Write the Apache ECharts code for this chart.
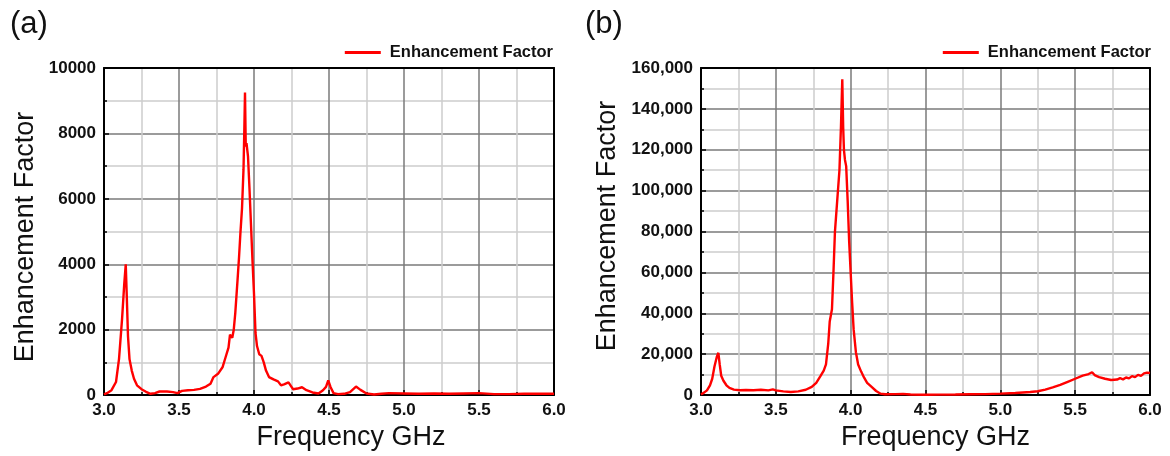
<!DOCTYPE html>
<html>
<head>
<meta charset="utf-8">
<script src="https://cdn.jsdelivr.net/npm/echarts@6/dist/echarts.min.js"></script>
<style>
  html, body { margin: 0; padding: 0; background: #fff; }
  #chart { width: 1170px; height: 456px; }
</style>
</head>
<body>
<div id="chart"></div>
<script>
// Panel (a) data
const freqA = [3.00,3.02,3.05,3.08,3.10,3.12,3.135,3.145,3.152,3.16,3.17,3.185,3.20,3.22,3.25,3.28,3.31,3.34,3.37,3.42,3.46,3.49,3.52,3.56,3.60,3.64,3.68,3.71,3.73,3.76,3.79,3.81,3.83,3.84,3.855,3.865,3.875,3.89,3.90,3.91,3.92,3.93,3.935,3.94,3.945,3.95,3.96,3.97,3.98,3.99,4.00,4.01,4.02,4.035,4.05,4.065,4.08,4.10,4.13,4.16,4.18,4.20,4.23,4.26,4.29,4.32,4.35,4.39,4.43,4.46,4.48,4.495,4.51,4.53,4.56,4.60,4.64,4.68,4.71,4.75,4.80,4.85,4.90,5.00,5.10,5.20,5.30,5.40,5.50,5.60,5.70,5.80,5.90,6.00];
const valA  = [20,60,150,400,1100,2300,3400,4000,3000,1800,1100,750,500,300,180,100,40,60,110,110,90,60,130,150,160,190,260,350,550,650,850,1150,1450,1850,1750,2000,2500,3500,4200,5000,5700,6900,8000,9250,7600,7700,7300,6300,5200,4100,3100,1900,1500,1250,1200,1000,750,550,480,420,300,330,390,180,200,240,150,80,50,150,250,450,250,60,30,40,90,260,160,50,20,40,60,50,40,50,40,50,60,30,30,40,40,40];

// Panel (b) data
const freqB = [3.00,3.02,3.04,3.06,3.075,3.09,3.105,3.116,3.125,3.135,3.15,3.17,3.19,3.22,3.26,3.30,3.35,3.40,3.45,3.48,3.50,3.55,3.60,3.65,3.70,3.74,3.77,3.80,3.82,3.835,3.85,3.86,3.875,3.885,3.895,3.91,3.925,3.935,3.944,3.95,3.955,3.962,3.97,3.98,3.99,4.00,4.01,4.02,4.035,4.05,4.07,4.09,4.11,4.14,4.17,4.20,4.23,4.30,4.35,4.40,4.50,4.60,4.70,4.80,4.90,5.00,5.10,5.20,5.25,5.30,5.35,5.40,5.45,5.50,5.55,5.59,5.613,5.63,5.66,5.70,5.74,5.78,5.80,5.82,5.84,5.86,5.88,5.90,5.92,5.94,5.96,5.97,5.98,6.00];
const valB  = [300,1200,2300,4800,8000,14000,18500,20700,15000,9500,7000,4800,3500,2700,2400,2500,2400,2600,2300,2800,2300,1800,1500,1800,2600,4000,6000,9500,12000,15000,25000,36000,42000,60000,80000,95000,110000,131000,154500,131000,120000,115000,112000,95000,75000,60000,45000,32000,21000,15000,11500,8500,6000,4000,2000,700,400,500,600,300,200,250,300,400,500,700,1000,1500,1900,2700,3800,5000,6500,8000,9500,10300,11200,9800,8800,8000,7400,7600,8300,7700,8600,8200,9300,8800,9900,9400,10600,10000,11000,10800];

const xTicks = { min: 3, max: 6, interval: 0.5 };
const yTicksA = { min: 0, max: 10000, interval: 2000 };
const yTicksB = { min: 0, max: 160000, interval: 20000 };

const FONT = 'Liberation Sans, Arial, sans-serif';
const RED = '#ff0000';

function pairs(xs, ys) { return xs.map((x, i) => [x, ys[i]]); }

function mainX(gridIndex, namePadLeft) {
  return {
    type: 'value', gridIndex, position: 'bottom',
    min: xTicks.min, max: xTicks.max, interval: xTicks.interval,
    name: 'Frequency GHz', nameLocation: 'middle', nameGap: 22,
    nameTextStyle: { fontFamily: FONT, fontSize: 27, color: '#111', padding: [0, 0, 0, namePadLeft] },
    axisLine: { show: true, onZero: false, lineStyle: { color: '#000', width: 2 } },
    axisTick: { show: true, inside: true, length: 5, lineStyle: { color: '#000', width: 1.5 } },
    minorTick: { show: true, splitNumber: 2, length: 3, lineStyle: { color: '#000', width: 1.5 } },
    axisLabel: { fontFamily: FONT, fontSize: 17, fontWeight: 'bold', color: '#111', margin: 7,
      formatter: v => v.toFixed(1) },
    splitLine: { show: true, showMinLine: false, showMaxLine: false, lineStyle: { color: '#7a7a7a', width: 1.5 } },
    minorSplitLine: { show: true, lineStyle: { color: '#cdcdcd', width: 1.5 } }
  };
}
function frameX(gridIndex) {
  return {
    type: 'value', gridIndex, position: 'top',
    min: xTicks.min, max: xTicks.max, interval: xTicks.interval,
    axisLine: { show: true, onZero: false, lineStyle: { color: '#000', width: 2 } },
    axisTick: { show: false }, axisLabel: { show: false }, splitLine: { show: false }
  };
}
function mainY(gridIndex, t, fmt, gap, pad) {
  return {
    type: 'value', gridIndex, position: 'left',
    min: t.min, max: t.max, interval: t.interval,
    name: 'Enhancement Factor', nameLocation: 'middle', nameGap: gap, nameRotate: 90,
    nameTextStyle: { fontFamily: FONT, fontSize: 27, color: '#111', padding: pad },
    axisLine: { show: true, onZero: false, lineStyle: { color: '#000', width: 2 } },
    axisTick: { show: true, inside: true, length: 5, lineStyle: { color: '#000', width: 1.5 } },
    minorTick: { show: true, splitNumber: 2, length: 3, lineStyle: { color: '#000', width: 1.5 } },
    axisLabel: { fontFamily: FONT, fontSize: 17, fontWeight: 'bold', color: '#111', margin: 8, formatter: fmt },
    splitLine: { show: true, showMinLine: false, showMaxLine: false, lineStyle: { color: '#7a7a7a', width: 1.5 } },
    minorSplitLine: { show: true, lineStyle: { color: '#cdcdcd', width: 1.5 } }
  };
}
function frameY(gridIndex, t) {
  return {
    type: 'value', gridIndex, position: 'right',
    min: t.min, max: t.max, interval: t.interval,
    axisLine: { show: true, onZero: false, lineStyle: { color: '#000', width: 2 } },
    axisTick: { show: false }, axisLabel: { show: false }, splitLine: { show: false }
  };
}

const legendCommon = {
  icon: 'rect', itemWidth: 36, itemHeight: 3, top: 39, orient: 'horizontal',
  textStyle: { fontFamily: FONT, fontSize: 16.5, fontWeight: 'bold', color: '#111', padding: [0, 0, 0, 4] },
  data: ['Enhancement Factor']
};

const chart = echarts.init(document.getElementById('chart'), null, { renderer: 'canvas' });
chart.setOption({
  animation: false,
  backgroundColor: '#fff',
  title: [
    { text: '(a)', left: 5, top: 4, textStyle: { fontFamily: FONT, fontSize: 31, fontWeight: 'normal', color: '#111' } },
    { text: '(b)', left: 580, top: 4, textStyle: { fontFamily: FONT, fontSize: 31, fontWeight: 'normal', color: '#111' } }
  ],
  legend: [
    Object.assign({}, legendCommon, { right: 612 }),
    Object.assign({}, legendCommon, { right: 14 })
  ],
  grid: [
    { left: 104, top: 68, width: 450, height: 330 },
    { left: 701, top: 68, width: 449, height: 330 }
  ],
  xAxis: [mainX(0, 44), frameX(0), mainX(1, 20), frameX(1)],
  yAxis: [
    mainY(0, yTicksA, v => String(v), 65, [0, 11, 0, 0]),
    frameY(0, yTicksA),
    mainY(1, yTicksB, v => v.toLocaleString('en-US'), 80, [0, 0, 0, 11]),
    frameY(1, yTicksB)
  ],
  series: [
    { name: 'Enhancement Factor', type: 'line', xAxisIndex: 0, yAxisIndex: 0, showSymbol: false,
      data: pairs(freqA, valA), lineStyle: { color: RED, width: 2.4 }, itemStyle: { color: RED } },
    { name: 'Enhancement Factor', type: 'line', xAxisIndex: 2, yAxisIndex: 2, showSymbol: false,
      data: pairs(freqB, valB), lineStyle: { color: RED, width: 2.4 }, itemStyle: { color: RED } }
  ]
});
</script>
</body>
</html>
